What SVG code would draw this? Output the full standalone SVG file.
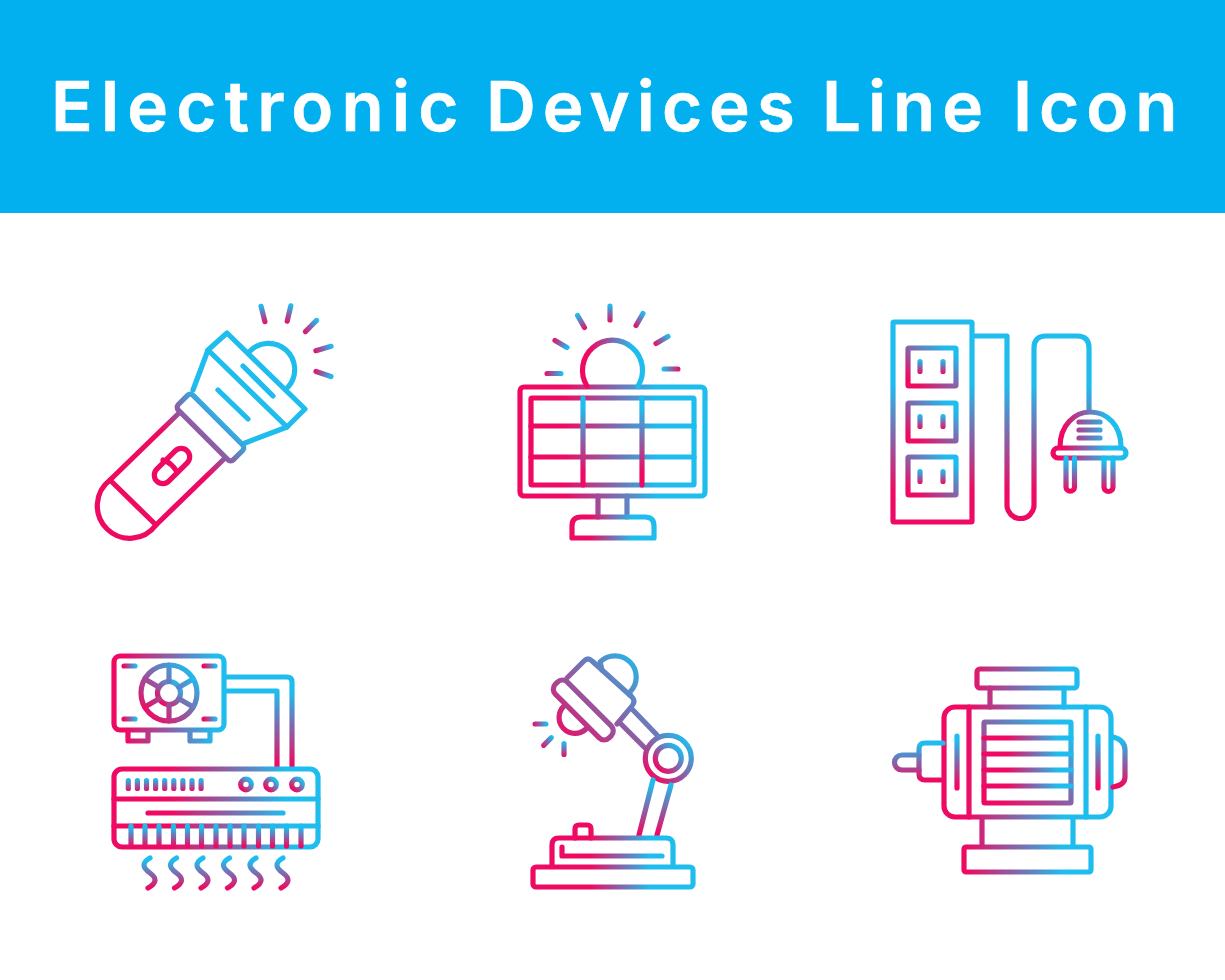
<svg xmlns="http://www.w3.org/2000/svg" xmlns:xlink="http://www.w3.org/1999/xlink" width="1225" height="980" viewBox="0 0 1225 980">
<style>
.t{font-family:"Inter","Liberation Sans",Arial,sans-serif;font-size:69px;font-weight:600;letter-spacing:7px;fill:#fff;stroke:#fff;stroke-width:0.6;stroke-linejoin:round}
.i path,.i rect,.i circle,#w{fill:none;stroke-width:5.2;stroke-linecap:round;stroke-linejoin:round}
.i rect.r{fill:url(#v);stroke:none}
</style>
<defs>
<linearGradient id="s"><stop offset="0" stop-color="#ee0a63"/><stop offset="1" stop-color="#1fbcee"/></linearGradient>
<linearGradient id="v" href="#s" x1="0" y1="1" x2="0" y2="0.1"/>
<linearGradient id="d" href="#s" x1="0.1" y1="0.9" x2="0.9" y2="0.1"/>
<linearGradient id="a1" href="#s" gradientUnits="userSpaceOnUse" x1="185" y1="452" x2="222" y2="415"/>
<linearGradient id="a2" href="#s" gradientUnits="userSpaceOnUse" x1="0" y1="35" x2="0" y2="-17"/>
<linearGradient id="b1" href="#s" gradientUnits="userSpaceOnUse" x1="565" y1="0" x2="657" y2="0"/>
<linearGradient id="b2" href="#s" gradientUnits="userSpaceOnUse" x1="0" y1="472" x2="0" y2="408"/>
<linearGradient id="b3" href="#s" gradientUnits="userSpaceOnUse" x1="590" y1="0" x2="632" y2="0"/>
<linearGradient id="c1" href="#s" gradientUnits="userSpaceOnUse" x1="0" y1="490" x2="0" y2="385"/>
<linearGradient id="c2" href="#s" gradientUnits="userSpaceOnUse" x1="1063" y1="0" x2="1107" y2="0"/>
<linearGradient id="c3" href="#s" gradientUnits="userSpaceOnUse" x1="0" y1="490" x2="0" y2="462"/>
<linearGradient id="e1" href="#s" gradientUnits="userSpaceOnUse" x1="125" y1="0" x2="215" y2="0"/>
<linearGradient id="e2" href="#s" gradientUnits="userSpaceOnUse" x1="0" y1="765" x2="0" y2="692"/>
<linearGradient id="e3" href="#s" gradientUnits="userSpaceOnUse" x1="170" y1="0" x2="285" y2="0"/>
<linearGradient id="e4" href="#s" gradientUnits="userSpaceOnUse" x1="0" y1="846" x2="0" y2="828"/>
<linearGradient id="e5" href="#s" gradientUnits="userSpaceOnUse" x1="124" y1="0" x2="136" y2="0"/>
<linearGradient id="e6" href="#s" gradientUnits="userSpaceOnUse" x1="204" y1="0" x2="216" y2="0"/>
<linearGradient id="f1" href="#s" gradientUnits="userSpaceOnUse" x1="558" y1="738" x2="640" y2="656"/>
<linearGradient id="f2" href="#s" gradientUnits="userSpaceOnUse" x1="0" y1="833" x2="0" y2="785"/>
<linearGradient id="f3" href="#s" gradientUnits="userSpaceOnUse" x1="590" y1="0" x2="650" y2="0"/>
<linearGradient id="f4" href="#s" gradientUnits="userSpaceOnUse" x1="0" y1="38" x2="0" y2="-78"/>
<linearGradient id="g1" href="#s" gradientUnits="userSpaceOnUse" x1="967" y1="0" x2="1063" y2="0"/>
<linearGradient id="g2" href="#s" gradientUnits="userSpaceOnUse" x1="1008" y1="0" x2="1058" y2="0"/>
<linearGradient id="g3" href="#s" gradientUnits="userSpaceOnUse" x1="0" y1="785" x2="0" y2="740"/>
<linearGradient id="g4" href="#s" gradientUnits="userSpaceOnUse" x1="0" y1="780" x2="0" y2="745"/>
<path id="w" d="M150 858c-9 5-7 10 0 15s7 10-2 15"/>
</defs>
<g id="header">
<rect x="0" y="0" width="1225" height="213" fill="#02b0ef"/>
<text class="t" y="131"><tspan x="51" style="letter-spacing:8.2px">Electronic</tspan> <tspan x="486">Devices</tspan> <tspan x="822">Line</tspan> <tspan x="1013">Icon</tspan></text>
</g>

<g id="flashlight" class="i" stroke="url(#a1)">
<path d="M178 414L110 480L156 525L223 460"/>
<path d="M110 480A32.500 32.500 0 1 0 156 525"/>
<rect x="-21.500" y="-8.500" width="43" height="17" rx="8.500" transform="translate(172 466) rotate(-45)" stroke="#ee0a63"/>
<path d="M163 460Q172 463 177 472" stroke="#ee0a63"/>
<rect x="-39" y="-10.500" width="78" height="21" rx="4" transform="translate(210.500 427.500) rotate(45)" stroke="url(#a2)"/>
<path d="M193 390L208 350L227 333L305 409L287 427L245 443"/>
<path d="M208 350L287 427"/>
<path d="M243 366L273 396M218 390L248 419"/>
<path d="M249 352A26 26 0 1 1 288 387"/>
<rect class="r" x="-2.600" y="-10.500" width="5.200" height="21" rx="2.600" transform="translate(263 314) rotate(-14)"/>
<rect class="r" x="-2.600" y="-10.500" width="5.200" height="21" rx="2.600" transform="translate(289 313.500) rotate(13)"/>
<rect class="r" x="-2.600" y="-10.500" width="5.200" height="21" rx="2.600" transform="translate(311 326) rotate(45)"/>
<rect class="r" x="-2.600" y="-10.500" width="5.200" height="21" rx="2.600" transform="translate(323.500 348.500) rotate(74)"/>
<rect class="r" x="-2.600" y="-10.500" width="5.200" height="21" rx="2.600" transform="translate(323.500 374) rotate(109)"/>
</g>

<g id="solar-panel" class="i">
<rect x="520" y="387" width="185" height="109" rx="4" stroke="url(#b1)"/>
<rect x="531" y="398" width="163" height="87" rx="1" stroke="url(#b1)"/>
<path d="M531 426H694M531 457H694" stroke="url(#b1)"/>
<path d="M583 398V485M642 398V485" stroke="url(#b2)"/>
<path d="M587 386A30 30 0 1 1 638 386" stroke="url(#b3)"/>
<path d="M598 496V517M627 496V517" stroke="url(#b1)"/>
<path d="M572 538V526Q572 517 581 517H645Q654 517 654 526V538Z" stroke="url(#b3)"/>
<rect class="r" x="-2.600" y="-9.500" width="5.200" height="19" rx="2.600" transform="translate(610 313)"/>
<rect class="r" x="-2.600" y="-9.500" width="5.200" height="19" rx="2.600" transform="translate(581 321.500) rotate(-30)"/>
<rect class="r" x="-2.600" y="-9.500" width="5.200" height="19" rx="2.600" transform="translate(639.500 319.500) rotate(30)"/>
<rect class="r" x="-2.600" y="-9.500" width="5.200" height="19" rx="2.600" transform="translate(662 340) rotate(60)"/>
<rect class="r" x="-2.600" y="-9.500" width="5.200" height="19" rx="2.600" transform="translate(561 344) rotate(120)"/>
<rect class="r" x="-2.600" y="-9.500" width="5.200" height="19" rx="2.600" transform="translate(554 373.500) rotate(90)"/>
<rect class="r" x="-2.600" y="-9.500" width="5.200" height="19" rx="2.600" transform="translate(671 369) rotate(-90)"/>
</g>

<g id="power-strip" class="i">
<rect x="893" y="322" width="79" height="200" rx="1" stroke="url(#c1)"/>
<path d="M973 336H1007V505A13.500 13.500 0 0 0 1034 505V348Q1034 336 1046 336H1077Q1089 336 1089 348V410" stroke="url(#c1)"/>
<rect x="908" y="348" width="48" height="38" rx="1" stroke="url(#d)"/>
<rect x="908" y="403" width="48" height="38" rx="1" stroke="url(#d)"/>
<rect x="908" y="457" width="48" height="38" rx="1" stroke="url(#d)"/>
<rect class="r" x="917.400" y="359" width="5.200" height="15" rx="2.600"/>
<rect class="r" x="940.400" y="359" width="5.200" height="15" rx="2.600"/>
<rect class="r" x="917.400" y="414" width="5.200" height="15" rx="2.600"/>
<rect class="r" x="940.400" y="414" width="5.200" height="15" rx="2.600"/>
<rect class="r" x="917.400" y="469" width="5.200" height="15" rx="2.600"/>
<rect class="r" x="940.400" y="469" width="5.200" height="15" rx="2.600"/>
<path d="M1060 447C1060 425 1075 412 1090 412C1107 412 1121 425 1121 447" stroke="url(#c2)"/>
<rect x="1053" y="448" width="73" height="10" rx="5" stroke="url(#c2)"/>
<path d="M1079 422H1100M1079 430H1100M1079 438H1100" stroke="url(#c2)"/>
<path d="M1066 458V487A4.250 4.250 0 0 0 1074.500 487V458M1104 458V487A4.500 4.500 0 0 0 1113 487V458" stroke="url(#c3)"/>
</g>

<g id="air-conditioner" class="i">
<rect x="114" y="656" width="110" height="74" rx="6" stroke="url(#e1)"/>
<circle cx="169" cy="693" r="28" stroke="url(#d)"/>
<circle cx="169" cy="693" r="11.500" stroke="url(#d)"/>
<path d="M169 665V681M169 705V721M144.800 679L159 687.300M179 698.800L193.200 707M193.200 679L179 687.300M159 698.800L144.800 707" stroke="url(#d)"/>
<path d="M124 666H135M124 719H135" stroke="url(#e5)"/>
<path d="M204 666H215M204 719H215" stroke="url(#e6)"/>
<path d="M128 732V741H148V732" stroke="url(#e1)"/>
<path d="M190 732V741H210V732" stroke="url(#e1)"/>
<path d="M227 677H287Q292 677 292 682V767M227 691H277V767" stroke="url(#e2)"/>
<rect x="114" y="769" width="204" height="78" rx="8" stroke="url(#e3)"/>
<path d="M114 799H318M114 826H318M148 813H283" stroke="url(#e3)"/>
<path d="M131 826V846M145 826V846M159 826V846M173.500 826V846M187.500 826V846M201.500 826V846M216 826V846M230 826V846M244 826V846M258.500 826V846M272.500 826V846M286.500 826V846M301 826V846" stroke="url(#e4)"/>
<rect class="r" x="125.700" y="778" width="5.200" height="13" rx="2.600"/>
<rect class="r" x="134.800" y="778" width="5.200" height="13" rx="2.600"/>
<rect class="r" x="143.900" y="778" width="5.200" height="13" rx="2.600"/>
<rect class="r" x="153" y="778" width="5.200" height="13" rx="2.600"/>
<rect class="r" x="162.100" y="778" width="5.200" height="13" rx="2.600"/>
<rect class="r" x="171.200" y="778" width="5.200" height="13" rx="2.600"/>
<rect class="r" x="180.300" y="778" width="5.200" height="13" rx="2.600"/>
<rect class="r" x="189.400" y="778" width="5.200" height="13" rx="2.600"/>
<rect class="r" x="198.500" y="778" width="5.200" height="13" rx="2.600"/>
<circle cx="246" cy="784.500" r="5.300" stroke="url(#d)"/>
<circle cx="271" cy="784.500" r="5.300" stroke="url(#d)"/>
<circle cx="297" cy="784.500" r="5.300" stroke="url(#d)"/>
<use href="#w" stroke="url(#v)"/>
<use href="#w" x="26.500" stroke="url(#v)"/>
<use href="#w" x="53" stroke="url(#v)"/>
<use href="#w" x="79.500" stroke="url(#v)"/>
<use href="#w" x="106" stroke="url(#v)"/>
<use href="#w" x="133" stroke="url(#v)"/>
</g>

<g id="desk-lamp" class="i">
<path d="M602 670L600 662A21.200 21.200 0 1 1 630 692L630 695" stroke="url(#f1)"/>
<path d="M564 706A15.900 15.900 0 1 0 586 729" stroke="url(#f1)"/>
<path d="M567 678L584 661Q588 657 592 661L632 697Q636 701 632 706L617 724" stroke="url(#f1)"/>
<rect x="-38" y="-8.500" width="76" height="17" rx="7" transform="translate(583.300 710) rotate(45)" stroke="url(#f4)"/>
<path d="M633 710L657 735M620 723L645 748" stroke="url(#f1)"/>
<circle cx="668.300" cy="758.300" r="23" stroke="url(#d)"/>
<circle cx="668.300" cy="758.300" r="13" stroke="url(#d)"/>
<path d="M653 780L639 835M671 785L657 835" stroke="url(#f2)"/>
<path d="M552 865V845Q552 838 559 838H666Q673 838 673 845V865" stroke="url(#f3)"/>
<path d="M575 838V829Q575 825 579 825H587Q591 825 591 829V838" stroke="url(#f3)"/>
<path d="M562 847V856H662" stroke="url(#f3)"/>
<rect x="533" y="867" width="160" height="20" rx="3" stroke="url(#f3)"/>
<rect class="r" x="-2.600" y="-8" width="5.200" height="16" rx="2.600" transform="translate(540.500 724) rotate(90)"/>
<rect class="r" x="-2.600" y="-8" width="5.200" height="16" rx="2.600" transform="translate(547.500 741.500) rotate(45)"/>
<rect class="r" x="-2.600" y="-8" width="5.200" height="16" rx="2.600" transform="translate(564 749)"/>
</g>

<g id="electric-motor" class="i">
<rect x="977" y="669" width="100" height="19" rx="3" stroke="url(#g1)"/>
<path d="M990 688V707M1064 688V707" stroke="url(#g1)"/>
<rect x="944" y="707" width="167" height="110" rx="11" stroke="url(#g1)"/>
<path d="M969 707V817M1086 707V817" stroke="url(#g1)"/>
<rect x="984" y="722" width="87" height="81" rx="1" stroke="url(#d)"/>
<path d="M984 738H1071M984 754H1071M984 770H1071M984 786H1071" stroke="url(#g2)"/>
<path d="M982 818V845M1073 818V845" stroke="url(#g1)"/>
<rect x="964" y="847" width="127" height="25" rx="2" stroke="url(#g1)"/>
<path d="M943 743H925Q919 743 919 749V774Q919 780 925 780H943" stroke="url(#g4)"/>
<path d="M919 755H902A7.500 7.500 0 0 0 902 770H919" stroke="url(#g4)"/>
<path d="M957 736V788M1098 736V788" stroke="url(#g3)"/>
<path d="M1113 737Q1125 740 1125 750V777Q1125 785 1113 787" stroke="url(#g3)"/>
</g>
</svg>
